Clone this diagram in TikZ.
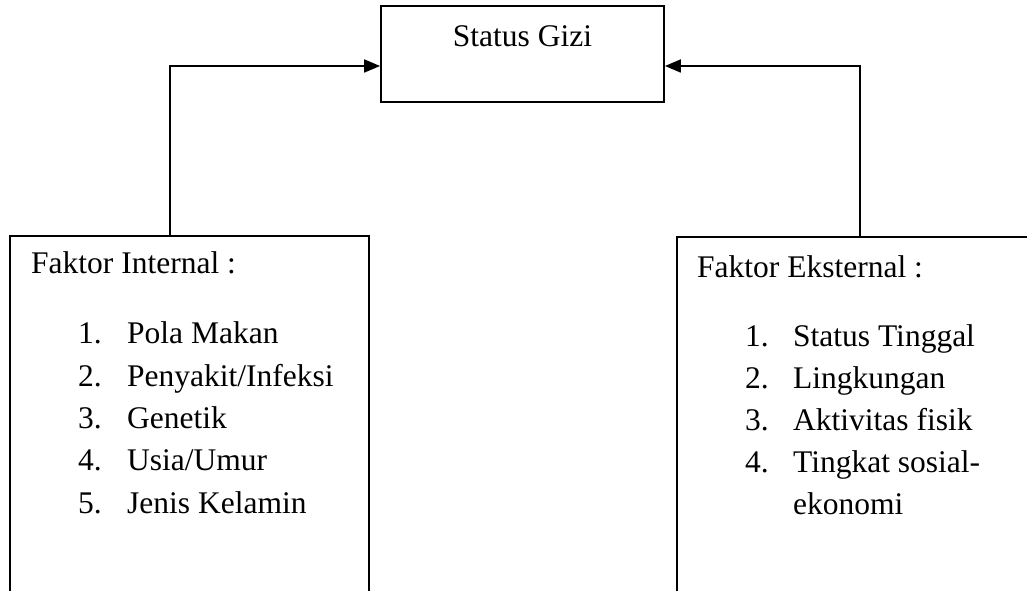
\documentclass[tikz,border=0pt]{standalone}
\usepackage{fontspec}
\setmainfont{Liberation Serif}
\usetikzlibrary{arrows.meta}
\begin{document}
\begin{tikzpicture}[x=1pt,y=-1pt,
  boxline/.style={draw=black,line width=1.8pt,inner sep=0pt},
  txt/.style={inner sep=0pt,anchor=base west,font=\fontsize{31.5}{38}\selectfont},
  arr/.style={line width=1.8pt,-{Triangle[length=16pt,width=13pt]}}]
\useasboundingbox (0,0) rectangle (1027,591);
\clip (0,0) rectangle (1027,591);
% boxes
\node[boxline,minimum width=283pt,minimum height=96pt] (sgizi) at (522.5,54) {};
\node[txt,anchor=base] (sgizitext) at (522.5,47) {Status Gizi};
\node[boxline,anchor=north,minimum width=359pt,minimum height=420pt] (lbox) at (189.5,235) {};
\node[boxline,anchor=north west,minimum width=400pt,minimum height=420pt] (rbox) at (676,236) {};
% left texts
\node[txt] (lh) at (31,273) {Faktor Internal :};
\node[txt] (ln1) at (78,343) {1.};
\node[txt] (lt1) at (127,343) {Pola Makan};
\node[txt] (ln2) at (78,386) {2.};
\node[txt] (lt2) at (127,386) {Penyakit/Infeksi};
\node[txt] (ln3) at (78,428) {3.};
\node[txt] (lt3) at (127,428) {Genetik};
\node[txt] (ln4) at (78,470) {4.};
\node[txt] (lt4) at (127,470) {Usia/Umur};
\node[txt] (ln5) at (78,513) {5.};
\node[txt] (lt5) at (127,513) {Jenis Kelamin};
% right texts
\node[txt] (rh) at (697,277) {Faktor Eksternal :};
\node[txt] (rn1) at (745,346) {1.};
\node[txt] (rt1) at (793,346) {Status Tinggal};
\node[txt] (rn2) at (745,388) {2.};
\node[txt] (rt2) at (793,388) {Lingkungan};
\node[txt] (rn3) at (745,430) {3.};
\node[txt] (rt3) at (793,430) {Aktivitas fisik};
\node[txt] (rn4) at (745,472) {4.};
\node[txt] (rt4) at (793,472) {Tingkat sosial-};
\node[txt] (rt5) at (793,514) {ekonomi};
% connectors
\coordinate (lx) at (170,0);
\coordinate (rx) at (860,0);
\draw[arr] (lbox.north -| lx) |- ([yshift=-12pt]sgizi.west);
\draw[arr] (rbox.north -| rx) |- ([yshift=-12pt]sgizi.east);
\end{tikzpicture}
\end{document}
